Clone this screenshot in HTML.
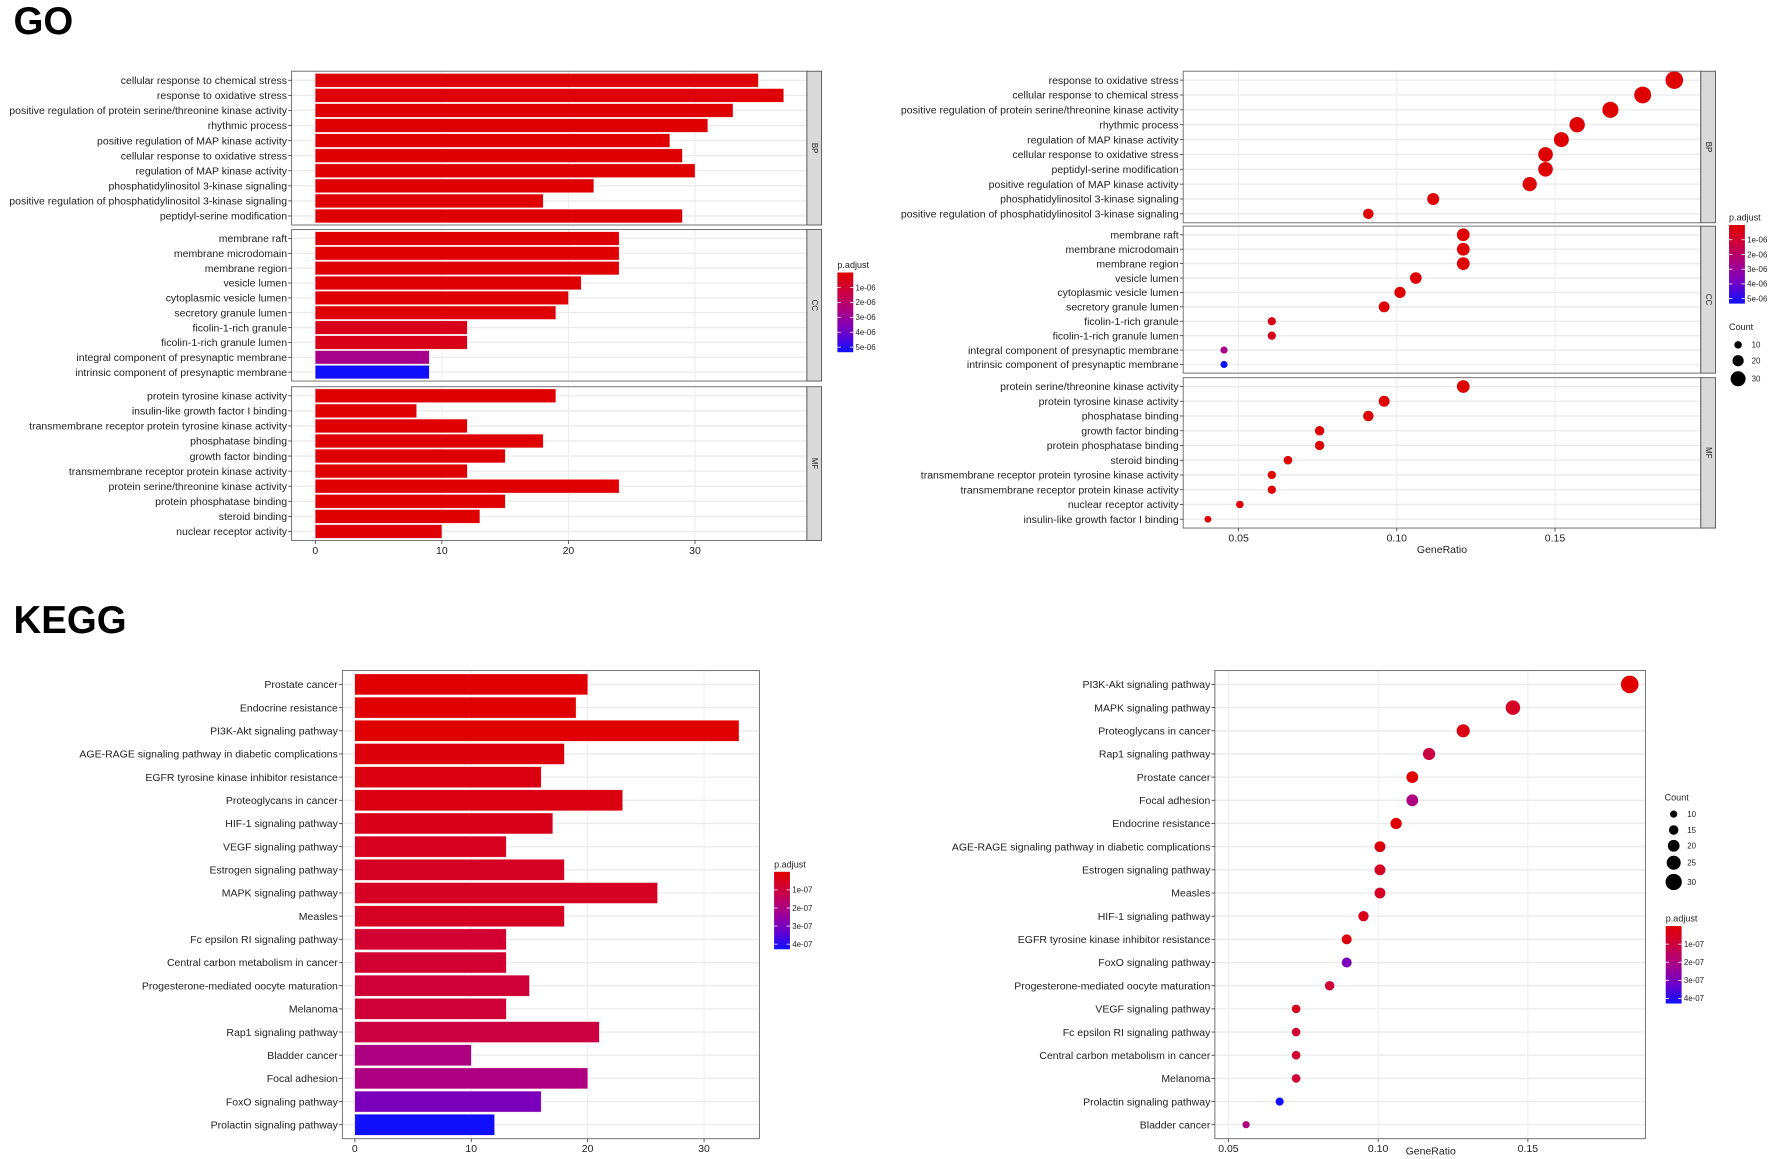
<!DOCTYPE html>
<html><head><meta charset="utf-8">
<style>
html,body{margin:0;padding:0;background:#fff;}
svg{display:block;font-family:"Liberation Sans",sans-serif;}
</style></head>
<body>
<svg id="fig" width="1772" height="1159" viewBox="0 0 1568 1025" preserveAspectRatio="none" xmlns="http://www.w3.org/2000/svg">
<text x="12" y="30" font-size="34" font-weight="bold">GO</text>
<text x="12" y="560" font-size="34" font-weight="bold">KEGG</text>
</svg>
<script>
// ---------- GO data ----------
const goBpLabels = ["cellular response to chemical stress","response to oxidative stress","positive regulation of protein serine/threonine kinase activity","rhythmic process","positive regulation of MAP kinase activity","cellular response to oxidative stress","regulation of MAP kinase activity","phosphatidylinositol 3-kinase signaling","positive regulation of phosphatidylinositol 3-kinase signaling","peptidyl-serine modification"];
const goBpCounts = [35,37,33,31,28,29,30,22,18,29];
const goBpPadj = [0.05e-6,0.05e-6,0.05e-6,0.05e-6,0.05e-6,0.05e-6,0.05e-6,0.05e-6,0.05e-6,0.05e-6];
const goCcLabels = ["membrane raft","membrane microdomain","membrane region","vesicle lumen","cytoplasmic vesicle lumen","secretory granule lumen","ficolin-1-rich granule","ficolin-1-rich granule lumen","integral component of presynaptic membrane","intrinsic component of presynaptic membrane"];
const goCcCounts = [24,24,24,21,20,19,12,12,9,9];
const goCcPadj = [0.05e-6,0.05e-6,0.05e-6,0.1e-6,0.1e-6,0.1e-6,0.5e-6,0.5e-6,2.7e-6,5.3e-6];
const goMfLabels = ["protein tyrosine kinase activity","insulin-like growth factor I binding","transmembrane receptor protein tyrosine kinase activity","phosphatase binding","growth factor binding","transmembrane receptor protein kinase activity","protein serine/threonine kinase activity","protein phosphatase binding","steroid binding","nuclear receptor activity"];
const goMfCounts = [19,8,12,18,15,12,24,15,13,10];
const goMfPadj = [0.05e-6,0.05e-6,0.05e-6,0.05e-6,0.05e-6,0.05e-6,0.05e-6,0.05e-6,0.05e-6,0.1e-6];
const goBarTicks = [0,10,20,30];

const goDotBpLabels = ["response to oxidative stress","cellular response to chemical stress","positive regulation of protein serine/threonine kinase activity","rhythmic process","regulation of MAP kinase activity","cellular response to oxidative stress","peptidyl-serine modification","positive regulation of MAP kinase activity","phosphatidylinositol 3-kinase signaling","positive regulation of phosphatidylinositol 3-kinase signaling"];
const goDotBpRatio = [0.1877,0.1777,0.1675,0.157,0.152,0.147,0.147,0.142,0.1115,0.091];
const goDotBpCount = [37,35,33,31,30,29,29,28,22,18];
const goDotBpPadj = [0.05e-6,0.05e-6,0.05e-6,0.05e-6,0.05e-6,0.05e-6,0.05e-6,0.05e-6,0.05e-6,0.05e-6];
const goDotCcLabels = goCcLabels;
const goDotCcRatio = [0.121,0.121,0.121,0.106,0.101,0.096,0.0605,0.0605,0.0454,0.0454];
const goDotCcCount = goCcCounts;
const goDotCcPadj = goCcPadj;
const goDotMfLabels = ["protein serine/threonine kinase activity","protein tyrosine kinase activity","phosphatase binding","growth factor binding","protein phosphatase binding","steroid binding","transmembrane receptor protein tyrosine kinase activity","transmembrane receptor protein kinase activity","nuclear receptor activity","insulin-like growth factor I binding"];
const goDotMfRatio = [0.121,0.096,0.091,0.0756,0.0756,0.0656,0.0605,0.0605,0.0504,0.0403];
const goDotMfCount = [24,19,18,15,15,13,12,12,10,8];
const goDotMfPadj = [0.05e-6,0.05e-6,0.05e-6,0.05e-6,0.05e-6,0.05e-6,0.05e-6,0.05e-6,0.1e-6,0.05e-6];
const goDotTicks = [0.05,0.10,0.15];
const goPadjTicks = ["1e-06","2e-06","3e-06","4e-06","5e-06"];
const goPadjTickVals = [1e-6,2e-6,3e-6,4e-6,5e-6];

// ---------- KEGG data ----------
const keggBarLabels = ["Prostate cancer","Endocrine resistance","PI3K-Akt signaling pathway","AGE-RAGE signaling pathway in diabetic complications","EGFR tyrosine kinase inhibitor resistance","Proteoglycans in cancer","HIF-1 signaling pathway","VEGF signaling pathway","Estrogen signaling pathway","MAPK signaling pathway","Measles","Fc epsilon RI signaling pathway","Central carbon metabolism in cancer","Progesterone-mediated oocyte maturation","Melanoma","Rap1 signaling pathway","Bladder cancer","Focal adhesion","FoxO signaling pathway","Prolactin signaling pathway"];
const keggBarCounts = [20,19,33,18,16,23,17,13,18,26,18,13,13,15,13,21,10,20,16,12];
const keggBarPadj = [0.01e-7,0.01e-7,0.01e-7,0.2e-7,0.25e-7,0.3e-7,0.4e-7,0.5e-7,0.6e-7,0.6e-7,0.6e-7,0.8e-7,0.8e-7,0.9e-7,0.9e-7,1.1e-7,2.0e-7,2.0e-7,3.0e-7,4.25e-7];
const keggBarTicks = [0,10,20,30];
const keggDotLabels = ["PI3K-Akt signaling pathway","MAPK signaling pathway","Proteoglycans in cancer","Rap1 signaling pathway","Prostate cancer","Focal adhesion","Endocrine resistance","AGE-RAGE signaling pathway in diabetic complications","Estrogen signaling pathway","Measles","HIF-1 signaling pathway","EGFR tyrosine kinase inhibitor resistance","FoxO signaling pathway","Progesterone-mediated oocyte maturation","VEGF signaling pathway","Fc epsilon RI signaling pathway","Central carbon metabolism in cancer","Melanoma","Prolactin signaling pathway","Bladder cancer"];
const keggDotRatio = [0.184,0.145,0.1284,0.117,0.1114,0.1114,0.106,0.1006,0.1006,0.1006,0.0951,0.0895,0.0895,0.0838,0.0726,0.0726,0.0726,0.0726,0.0671,0.0559];
const keggDotCount = [33,26,23,21,20,20,19,18,18,18,17,16,16,15,13,13,13,13,12,10];
const keggDotPadj = [0.01e-7,0.6e-7,0.3e-7,1.1e-7,0.01e-7,2.0e-7,0.01e-7,0.2e-7,0.6e-7,0.6e-7,0.4e-7,0.25e-7,3.0e-7,0.9e-7,0.5e-7,0.8e-7,0.8e-7,0.9e-7,4.25e-7,2.0e-7];
const keggDotTicks = [0.05,0.10,0.15];
const keggPadjTicks = ["1e-07","2e-07","3e-07","4e-07"];
const keggPadjTickVals = [1e-7,2e-7,3e-7,4e-7];
const keggCountTicks = [10,15,20,25,30];
const goCountTicks = [10,20,30];

const NS = "http://www.w3.org/2000/svg";
const svg = document.getElementById('fig');
function mk(tag, attrs, parent, text){
  const e = document.createElementNS(NS, tag);
  for (const k in attrs) e.setAttribute(k, attrs[k]);
  if (text !== undefined) e.textContent = text;
  (parent || svg).appendChild(e);
  return e;
}
const stops = [[0,[224,0,0]],[0.25,[204,0,64]],[0.5,[168,0,138]],[0.75,[112,0,200]],[1,[16,16,255]]];
function colorAt(t){
  t = Math.max(0, Math.min(1, t));
  for (let i = 1; i < stops.length; i++){
    if (t <= stops[i][0]){
      const a = stops[i-1], b = stops[i], f = (t - a[0]) / (b[0] - a[0]);
      const c = a[1].map((v, j) => Math.round(v + (b[1][j] - v) * f));
      return `rgb(${c[0]},${c[1]},${c[2]})`;
    }
  }
  return 'rgb(16,16,255)';
}
function rowY(top, bottom, n, i){
  const step = (bottom - top) / (n - 1 + 1.2);
  return top + step * (0.6 + i);
}
function panelFrame(g, x0, x1, top, bottom, xTicks, xs){
  mk('rect', {x:x0, y:top, width:x1-x0, height:bottom-top, fill:'#fff'}, g);
  xTicks.forEach(t => {
    const e = mk('line', {x1:xs(t), x2:xs(t), y1:top, y2:bottom, stroke:'#ebebeb', 'stroke-width':0.8}, g);
    
    
  });
}
function strip(g, x, top, bottom, label){
  const s = mk('rect', {x:x, y:top, width:13, height:bottom-top, fill:'#d9d9d9', stroke:'#555', 'stroke-width':0.8}, g);
  
  
  const cy = (top + bottom) / 2;
  const t = mk('text', {x:x+6.5, y:cy, 'font-size':7, 'text-anchor':'middle', transform:`rotate(90 ${x+6.5} ${cy})`, 'dominant-baseline':'middle', fill:'#222'}, g, label);
  
  
}
function yLabels(g, x0, top, bottom, labels){
  labels.forEach((lab, i) => {
    const y = rowY(top, bottom, labels.length, i);
    mk('line', {x1:x0-3, x2:x0, y1:y, y2:y, stroke:'#333', 'stroke-width':0.7}, g);
    const t = mk('text', {x:x0-4, y:y+3.3, 'font-size':9.3, 'text-anchor':'end', fill:'#222'}, g, lab);
    
    
  });
}
function hGrid(g, x0, x1, top, bottom, n){
  for (let i = 0; i < n; i++){
    const y = rowY(top, bottom, n, i);
    const l = mk('line', {x1:x0, x2:x1, y1:y, y2:y, stroke:'#ebebeb', 'stroke-width':1.2}, g);
    
    
  }
}
function xAxis(g, ticks, xs, y, fmt){
  ticks.forEach(t => {
    mk('line', {x1:xs(t), x2:xs(t), y1:y, y2:y+3, stroke:'#333', 'stroke-width':0.7}, g);
    const e = mk('text', {x:xs(t), y:y+12, 'font-size':9.3, 'text-anchor':'middle', fill:'#222'}, g, fmt(t));
    
    
  });
}
function barPanel(g, cfg, p){
  const n = p.labels.length;
  panelFrame(g, cfg.x0, cfg.x1, p.top, p.bottom, cfg.ticks, cfg.xs);
  hGrid(g, cfg.x0, cfg.x1, p.top, p.bottom, n);
  const step = (p.bottom - p.top) / (n + 0.2);
  p.values.forEach((v, i) => {
    const y = rowY(p.top, p.bottom, n, i);
    const b = mk('rect', {x:cfg.xs(0), y:y - step*0.45, width:cfg.xs(v)-cfg.xs(0), height:step*0.9, fill:colorAt(p.padj[i]/cfg.pmax), stroke:'#f8dada', 'stroke-width':0.3}, g);
    
    
  });
  mk('rect', {x:cfg.x0, y:p.top, width:cfg.x1-cfg.x0, height:p.bottom-p.top, fill:'none', stroke:'#777', 'stroke-width':0.9}, g);
  yLabels(g, cfg.x0, p.top, p.bottom, p.labels);
  if (p.strip) strip(g, cfg.x1, p.top, p.bottom, p.strip);
}
function dotPanel(g, cfg, p){
  const n = p.labels.length;
  panelFrame(g, cfg.x0, cfg.x1, p.top, p.bottom, cfg.ticks, cfg.xs);
  hGrid(g, cfg.x0, cfg.x1, p.top, p.bottom, n);
  p.ratio.forEach((v, i) => {
    const y = rowY(p.top, p.bottom, n, i);
    const c = mk('circle', {cx:cfg.xs(v), cy:y, r:cfg.rs(p.count[i]), fill:colorAt(p.padj[i]/cfg.pmax)}, g);
    
    
  });
  mk('rect', {x:cfg.x0, y:p.top, width:cfg.x1-cfg.x0, height:p.bottom-p.top, fill:'none', stroke:'#777', 'stroke-width':0.9}, g);
  yLabels(g, cfg.x0, p.top, p.bottom, p.labels);
  if (p.strip) strip(g, cfg.x1, p.top, p.bottom, p.strip);
}
function colorLegend(g, x, top, bot, tickVals, tickLabels, pmax){
  const tt = mk('text', {x:x, y:top-4, 'font-size':8, fill:'#222'}, g, 'p.adjust');
  
  
  const N = 40, h = (bot - top) / N;
  for (let i = 0; i < N; i++){
    mk('rect', {x:x, y:top + i*h, width:14, height:h+0.5, fill:colorAt((i+0.5)/N)}, g);
  }
  tickVals.forEach((v, i) => {
    const y = top + (v / pmax) * (bot - top);
    mk('line', {x1:x, x2:x+3, y1:y, y2:y, stroke:'#fff', 'stroke-width':0.7}, g);
    mk('line', {x1:x+11, x2:x+14, y1:y, y2:y, stroke:'#fff', 'stroke-width':0.7}, g);
    const t = mk('text', {x:x+16, y:y+2.5, 'font-size':7, fill:'#222'}, g, tickLabels[i]);
    
    
  });
}
function sizeLegend(g, x, titleY, ys, vals, rs){
  const t = mk('text', {x:x, y:titleY, 'font-size':8, fill:'#222'}, g, 'Count');
  
  
  vals.forEach((v, i) => {
    const c = mk('circle', {cx:x+8, cy:ys[i], r:rs(v), fill:'#000'}, g);
    
    
    mk('text', {x:x+20, y:ys[i]+2.5, 'font-size':7, fill:'#222'}, g, String(v));
  });
}

// ---- GO bar ----
const gGoBar = mk('g', {});  
const goBarCfg = {x0:258, x1:714, ticks:goBarTicks, xs:v => 279 + v*11.2, pmax:5.3e-6};
barPanel(gGoBar, goBarCfg, {top:63, bottom:199, labels:goBpLabels, values:goBpCounts, padj:goBpPadj, strip:'BP'});
barPanel(gGoBar, goBarCfg, {top:203, bottom:337, labels:goCcLabels, values:goCcCounts, padj:goCcPadj, strip:'CC'});
barPanel(gGoBar, goBarCfg, {top:342, bottom:478, labels:goMfLabels, values:goMfCounts, padj:goMfPadj, strip:'MF'});
xAxis(gGoBar, goBarTicks, goBarCfg.xs, 478, t => String(t));
colorLegend(gGoBar, 741, 241, 311, goPadjTickVals, goPadjTicks, 5.3e-6);

// ---- GO dot ----
const gGoDot = mk('g', {});  
const goRs = c => 3.0 + (c - 8) * 0.165;
const goDotCfg = {x0:1047, x1:1505, ticks:goDotTicks, xs:v => 1096 + (v - 0.05)*2800, rs:goRs, pmax:5.3e-6};
dotPanel(gGoDot, goDotCfg, {top:63, bottom:197, labels:goDotBpLabels, ratio:goDotBpRatio, count:goDotBpCount, padj:goDotBpPadj, strip:'BP'});
dotPanel(gGoDot, goDotCfg, {top:200, bottom:330, labels:goDotCcLabels, ratio:goDotCcRatio, count:goDotCcCount, padj:goDotCcPadj, strip:'CC'});
dotPanel(gGoDot, goDotCfg, {top:334, bottom:467, labels:goDotMfLabels, ratio:goDotMfRatio, count:goDotMfCount, padj:goDotMfPadj, strip:'MF'});
xAxis(gGoDot, goDotTicks, goDotCfg.xs, 467, t => t.toFixed(2));
const gx1 = mk('text', {x:1276, y:489, 'font-size':9.3, 'text-anchor':'middle', fill:'#222'}, gGoDot, 'GeneRatio');
 
colorLegend(gGoDot, 1530, 199, 268, goPadjTickVals, goPadjTicks, 5.3e-6);
sizeLegend(gGoDot, 1530, 292, [305, 319, 335], goCountTicks, goRs);

// ---- KEGG bar ----
const gKBar = mk('g', {});  
const kBarCfg = {x0:303, x1:672, ticks:keggBarTicks, xs:v => 314 + v*10.3, pmax:4.25e-7};
barPanel(gKBar, kBarCfg, {top:593, bottom:1007, labels:keggBarLabels, values:keggBarCounts, padj:keggBarPadj});
xAxis(gKBar, keggBarTicks, kBarCfg.xs, 1007, t => String(t));
colorLegend(gKBar, 685, 771, 839, keggPadjTickVals, keggPadjTicks, 4.25e-7);

// ---- KEGG dot ----
const gKDot = mk('g', {});  
const kRs = c => 3.2 + (c - 10) * 0.2;
const kDotCfg = {x0:1075, x1:1456, ticks:keggDotTicks, xs:v => 1087 + (v - 0.05)*2650, rs:kRs, pmax:4.25e-7};
dotPanel(gKDot, kDotCfg, {top:593, bottom:1007, labels:keggDotLabels, ratio:keggDotRatio, count:keggDotCount, padj:keggDotPadj});
xAxis(gKDot, keggDotTicks, kDotCfg.xs, 1007, t => t.toFixed(2));
const gx2 = mk('text', {x:1266, y:1021, 'font-size':9.3, 'text-anchor':'middle', fill:'#222'}, gKDot, 'GeneRatio');
 
sizeLegend(gKDot, 1473, 708, [720, 734, 748, 763, 780], keggCountTicks, kRs);
colorLegend(gKDot, 1474, 819, 887, keggPadjTickVals, keggPadjTicks, 4.25e-7);
</script>
</body></html>
